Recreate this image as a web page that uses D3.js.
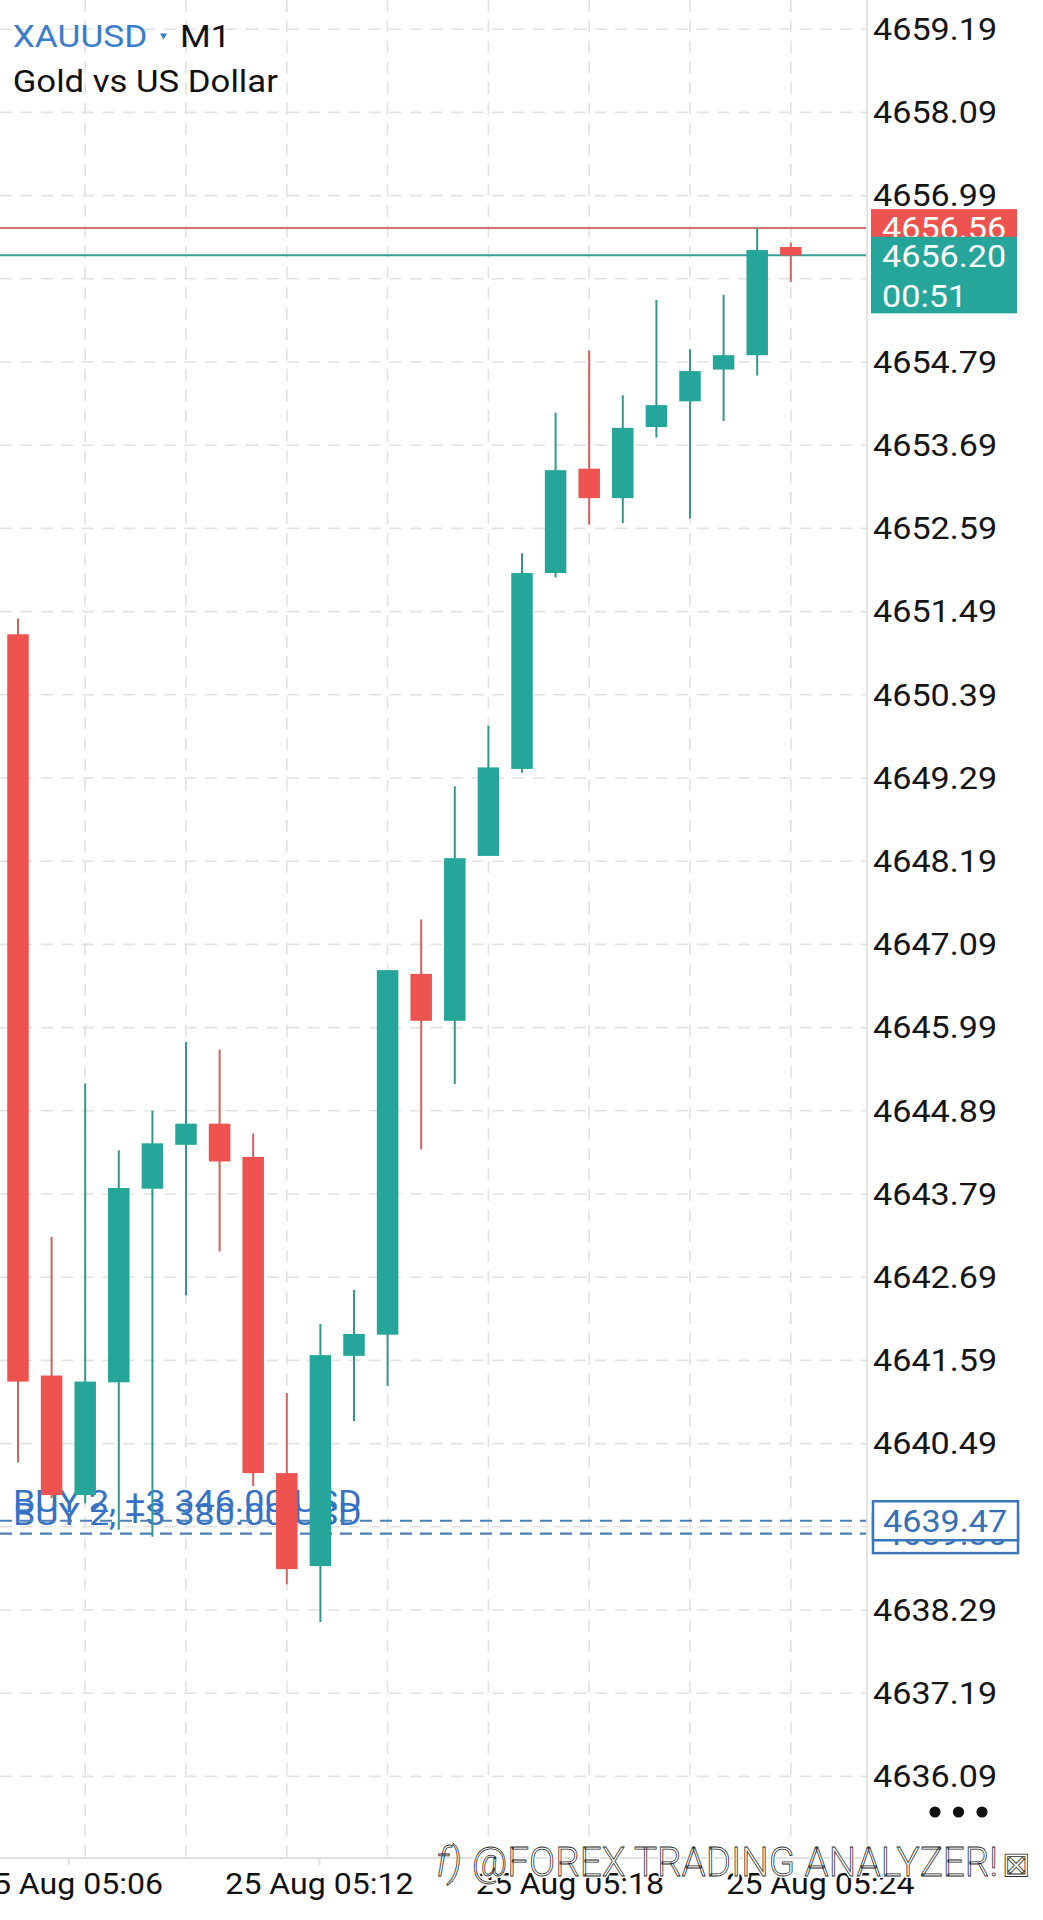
<!DOCTYPE html>
<html>
<head>
<meta charset="utf-8">
<script src="https://cdn.jsdelivr.net/npm/d3@7"></script>
<style>
html,body{margin:0;padding:0;background:#fff;}
svg{display:block;}
text{font-family:Roboto,"Noto Sans",sans-serif;}
</style>
</head>
<body>
<svg id="chart" width="1043" height="1920"></svg>
<script>
// ---------- DATA ----------
const times = ["05:03","05:04","05:05","05:06","05:07","05:08","05:09","05:10","05:11","05:12","05:13","05:14",
               "05:15","05:16","05:17","05:18","05:19","05:20","05:21","05:22","05:23","05:24","05:25","05:26"];
const opens  = [4651.19,4641.39,4639.81,4641.30,4643.86,4644.44,4644.72,4644.28,4640.10,4638.87,4641.65,4641.93,
                4646.70,4646.08,4648.26,4649.41,4652.00,4653.38,4652.99,4653.93,4654.27,4654.69,4654.88,4656.31];
const highs  = [4651.40,4643.22,4645.25,4644.37,4644.89,4645.80,4645.70,4644.59,4641.16,4642.07,4642.52,4646.75,
                4647.42,4649.18,4649.98,4652.26,4654.12,4654.94,4654.35,4655.61,4654.96,4655.68,4656.56,4656.37];
const lows   = [4640.24,4639.77,4639.70,4639.35,4639.26,4642.45,4643.03,4639.93,4638.63,4638.13,4640.79,4641.25,
                4644.38,4645.24,4648.26,4649.36,4651.94,4652.64,4652.66,4653.79,4652.72,4654.01,4654.61,4655.85];
const closes = [4641.31,4639.81,4641.31,4643.87,4644.46,4644.72,4644.22,4640.10,4638.83,4641.66,4641.94,4646.75,
                4646.08,4648.23,4649.43,4652.00,4653.36,4652.99,4653.92,4654.22,4654.67,4654.88,4656.27,4656.20];
const priceTicks = [4636.09,4637.19,4638.29,4639.39,4640.49,4641.59,4642.69,4643.79,4644.89,4645.99,4647.09,
                    4648.19,4649.29,4650.39,4651.49,4652.59,4653.69,4654.79,4655.89,4656.99,4658.09,4659.19];
const timeLabels = ["25 Aug 05:06","25 Aug 05:12","25 Aug 05:18","25 Aug 05:24"];
const askPrice = 4656.56;
const bidPrice = 4656.20;
const barTimer = "00:51";
const positionPrices = [4639.30, 4639.47];
const positionLabels = ["BUY 2, +3 380.00 USD", "BUY 2, +3 346.00 USD"];
const symbolName = "XAUUSD", timeframe = "M1", symbolDesc = "Gold vs US Dollar";
const watermark = "@FOREX TRADING ANALYZER!";

// ---------- SETUP ----------
const W = 1043, H = 1920;
const plotRight = 866, axisBottom = 1858;
const UP = "#26a69a", DOWN = "#ef5350";
const svg = d3.select("#chart");
svg.append("rect").attr("width",W).attr("height",H).attr("fill","#fff");

const y = d3.scaleLinear().domain([4638.29, 4654.79]).range([1610, 362]);
const x = d3.scalePoint().domain(times).range([18, 790.8]);
const xl = d3.scalePoint().domain(timeLabels).range([69, 820.5]);
const bodyW = 21.5;
const fmt = d3.format(".2f");

const candles = times.map((t,i)=>({t, o:opens[i], h:highs[i], l:lows[i], c:closes[i]}));

function label(g, px, py, str, size, fill, sx, anchor){
  return g.append("text")
    .attr("transform",`translate(${px},${py}) scale(${sx},1)`)
    .attr("font-size",size).attr("fill",fill)
    .attr("text-anchor",anchor||"start")
    .text(str);
}

// ---------- GRID ----------
const grid = svg.append("g");
grid.selectAll("line.h").data(priceTicks).join("line")
  .attr("x1",0).attr("x2",plotRight).attr("y1",d=>y(d)).attr("y2",d=>y(d))
  .attr("stroke","#e2e2e2").attr("stroke-width",1.6).attr("stroke-dasharray","12,8.5");
grid.selectAll("line.v").data(times.filter((t,i)=>i%3===2)).join("line")
  .attr("x1",d=>x(d)).attr("x2",d=>x(d)).attr("y1",0).attr("y2",axisBottom)
  .attr("stroke","#e2e2e2").attr("stroke-width",1.6).attr("stroke-dasharray","12,8.5");

// axis frame
svg.append("line").attr("x1",plotRight+1).attr("x2",plotRight+1).attr("y1",0).attr("y2",1846)
  .attr("stroke","#e4e4e4").attr("stroke-width",2);
svg.append("line").attr("x1",0).attr("x2",plotRight).attr("y1",axisBottom).attr("y2",axisBottom)
  .attr("stroke","#e0e0e0").attr("stroke-width",2);
svg.selectAll("line.tk").data(timeLabels).join("line")
  .attr("x1",d=>xl(d)).attr("x2",d=>xl(d)).attr("y1",axisBottom).attr("y2",axisBottom+7)
  .attr("stroke","#e0e0e0").attr("stroke-width",2);

// ---------- ASK / BID LINES ----------
svg.append("line").attr("x1",0).attr("x2",plotRight).attr("y1",y(askPrice)).attr("y2",y(askPrice))
  .attr("stroke","#d27373").attr("stroke-width",2);
svg.append("line").attr("x1",0).attr("x2",plotRight).attr("y1",y(bidPrice)).attr("y2",y(bidPrice))
  .attr("stroke","#3a9f98").attr("stroke-width",2);

// ---------- POSITION LINES ----------
const pos = svg.append("g");
positionPrices.forEach((p,i)=>{
  pos.append("line").attr("x1",0).attr("x2",plotRight).attr("y1",y(p)).attr("y2",y(p))
    .attr("stroke","#4a7fb8").attr("stroke-width",2.2).attr("stroke-dasharray","12,8");
  label(pos, 13, y(p)-9, positionLabels[i], 32, "#3571c4", 1.12);
});

// ---------- CANDLES ----------
const cg = svg.append("g");
cg.selectAll("line.wick").data(candles).join("line")
  .attr("x1",d=>x(d.t)).attr("x2",d=>x(d.t))
  .attr("y1",d=>y(d.h)).attr("y2",d=>y(d.l))
  .attr("stroke",d=>d.c>=d.o?"#2f9990":"#d4605c").attr("stroke-width",2);
cg.selectAll("rect.body").data(candles).join("rect")
  .attr("x",d=>x(d.t)-bodyW/2).attr("width",bodyW)
  .attr("y",d=>y(Math.max(d.o,d.c)))
  .attr("height",d=>Math.max(2,Math.abs(y(d.o)-y(d.c))))
  .attr("fill",d=>d.c>=d.o?UP:DOWN);

// ---------- PRICE AXIS LABELS ----------
const ax = svg.append("g");
priceTicks.forEach(p=>label(ax, 873, y(p)+10.8, fmt(p), 30.5, "#151515", 1.12));

// ask box (partly covered by bid box)
svg.append("rect").attr("x",871).attr("width",146).attr("y",y(askPrice)-19).attr("height",38).attr("fill",DOWN);
label(svg, 882, y(askPrice)+10.8, fmt(askPrice), 30.5, "#fff", 1.12);
// bid box with timer
svg.append("rect").attr("x",871).attr("width",146).attr("y",y(bidPrice)-18.6).attr("height",76.6).attr("fill",UP);
label(svg, 882, y(bidPrice)+11.2, fmt(bidPrice), 30.5, "#fff", 1.12);
label(svg, 882, y(bidPrice)+51.2, barTimer, 30.5, "#fff", 1.12);

// position price boxes
positionPrices.forEach(p=>{
  svg.append("rect").attr("x",873).attr("width",145).attr("y",y(p)-19.5).attr("height",39)
    .attr("fill","#fff").attr("stroke","#3b77b7").attr("stroke-width",2.5);
  label(svg, 883, y(p)+11.5, fmt(p), 30.5, "#3570b5", 1.12);
});

// ---------- TITLE ----------
label(svg, 12.7, 46.7, symbolName, 31.5, "#3a7dcc", 1.12);
svg.append("path").attr("d", d3.symbol(d3.symbolTriangle, 22)())
  .attr("transform","translate(163.5,35.5) rotate(180)").attr("fill","#3a7dcc");
label(svg, 180, 46.7, timeframe, 31.5, "#111", 1.12);
label(svg, 12.7, 91.7, symbolDesc, 31, "#111", 1.12);

// ---------- TIME LABELS ----------
timeLabels.forEach(t=>label(svg, xl(t), 1894, t, 30, "#111", 1.07, "middle"));

// three-dot menu
svg.selectAll("circle.dot").data([0,1,2]).join("circle")
  .attr("cx",d=>935+d*23.5).attr("cy",1812).attr("r",5.6).attr("fill","#111");

// ---------- WATERMARK ----------
const wm = svg.append("g");
wm.append("text").attr("x",472).attr("y",1876).attr("font-size",40).attr("font-weight",300)
  .attr("textLength",526).attr("lengthAdjust","spacingAndGlyphs")
  .attr("fill","#fff").attr("stroke","#fff").attr("stroke-width",4).text(watermark);
wm.append("text").attr("x",472).attr("y",1876).attr("font-size",40).attr("font-weight",300)
  .attr("textLength",526).attr("lengthAdjust","spacingAndGlyphs")
  .attr("fill","#fff").attr("stroke","#2a2a2a").attr("stroke-width",0.8).text(watermark);
wm.append("text").attr("x",436).attr("y",1876).attr("font-size",40).attr("font-weight",300)
  .attr("font-style","italic")
  .attr("fill","#fff").attr("stroke","#2a2a2a").attr("stroke-width",0.8).text("f)");
wm.append("text").attr("x",1002).attr("y",1876).attr("font-size",34).attr("font-family","DejaVu Sans")
  .attr("fill","#fff").attr("stroke","#2a2a2a").attr("stroke-width",0.8).text("⊠");
</script>
</body>
</html>
